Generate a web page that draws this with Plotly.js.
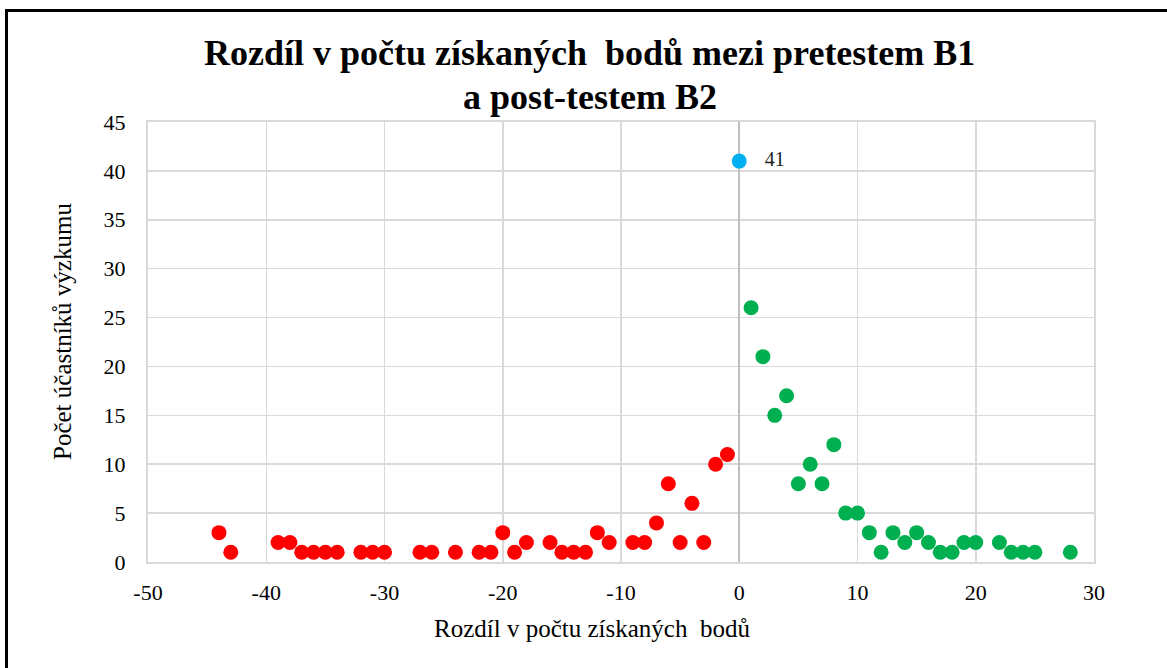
<!DOCTYPE html>
<html>
<head>
<meta charset="utf-8">
<script src="https://cdn.plot.ly/plotly-3.0.1.min.js"></script>
<style>
html,body{margin:0;padding:0;background:#fff;width:1167px;height:668px;overflow:hidden;}
#frame{position:absolute;left:5px;top:9px;width:1300px;height:800px;border-left:3px solid #000;border-top:3px solid #000;}
#chart{position:absolute;left:0;top:0;width:1167px;height:668px;}
</style>
</head>
<body>
<div id="frame"></div>
<div id="chart"></div>
<script>
// Negative differences (red)
const negX = [-44,-43,-39,-38,-37,-36,-35,-34,-32,-31,-30,-27,-26,-24,-22,-21,-20,-19,-18,-16,-15,-14,-13,-12,-11,-9,-8,-7,-6,-5,-4,-3,-2,-1];
const negY = [3,1,2,2,1,1,1,1,1,1,1,1,1,1,1,1,3,1,2,2,1,1,1,3,2,2,2,4,8,2,6,2,10,11];
// Zero difference (blue)
const zeroX = [0];
const zeroY = [41];
// Positive differences (green)
const posX = [1,2,3,4,5,6,7,8,9,10,11,12,13,14,15,16,17,18,19,20,22,23,24,25,28];
const posY = [26,21,15,17,8,10,8,12,5,5,3,1,3,2,3,2,1,1,2,2,2,1,1,1,1];

const titleLine1 = "Rozdíl v počtu získaných\u00a0 bodů mezi pretestem B1";
const titleLine2 = "a post-testem B2";
const xTitle = "Rozdíl v počtu získaných\u00a0 bodů";
const yTitle = "Počet účastníků výzkumu";
const xTicks = [-50,-40,-30,-20,-10,0,10,20,30];
const yTicks = [0,5,10,15,20,25,30,35,40,45];

const serif = "Liberation Serif, Times New Roman, serif";
const mk = (c) => ({size:15, color:c, line:{width:0}});

const traces = [
  {x:negX, y:negY, type:'scatter', mode:'markers', marker:mk('#ff0000'), hoverinfo:'x+y'},
  {x:zeroX, y:zeroY, type:'scatter', mode:'markers+text', marker:mk('#00b0f0'),
   text:zeroY.map(v => '\u00a0\u00a0\u00a0' + v), textposition:'middle right',
   textfont:{family:serif, size:20, color:'#222'}, hoverinfo:'x+y'},
  {x:posX, y:posY, type:'scatter', mode:'markers', marker:mk('#00b050'), hoverinfo:'x+y'}
];

const layout = {
  width:1167, height:668,
  margin:{l:148, r:73, t:122, b:106},
  paper_bgcolor:'rgba(0,0,0,0)', plot_bgcolor:'#fff',
  showlegend:false,
  font:{family:serif, color:'#000'},
  xaxis:{range:[-50,30], tickvals:xTicks, ticktext:xTicks.map(String), showgrid:true, gridcolor:'#d9d9d9', gridwidth:1.5,
         zeroline:true, zerolinecolor:'#bfbfbf', zerolinewidth:2, showline:true, linecolor:'#d9d9d9', linewidth:2, mirror:true,
         ticks:'', tickfont:{family:serif, size:22, color:'#000'}, ticklabelstandoff:10},
  yaxis:{range:[0,45], tickvals:yTicks, ticktext:yTicks.map(String), showgrid:true, gridcolor:'#d9d9d9', gridwidth:1.5,
         zeroline:false, showline:true, linecolor:'#d9d9d9', linewidth:2, mirror:true,
         ticks:'', tickfont:{family:serif, size:22, color:'#000'}, ticklabelstandoff:16},
  annotations:[
    {text:'<b>' + titleLine1 + '</b>', xref:'paper', yref:'paper',
     x:(589.5-148)/946, y:(562-53)/440, xanchor:'center', yanchor:'middle',
     showarrow:false, font:{family:serif, size:36, color:'#000'}},
    {text:'<b>' + titleLine2 + '</b>', xref:'paper', yref:'paper',
     x:(589.5-148)/946, y:(562-97)/440, xanchor:'center', yanchor:'middle',
     showarrow:false, font:{family:serif, size:36, color:'#000'}},
    {text:xTitle, xref:'paper', yref:'paper', x:(592-148)/946, y:-(628-562)/440, xanchor:'center', yanchor:'middle',
     showarrow:false, font:{family:serif, size:25, color:'#000'}},
    {text:yTitle, xref:'paper', yref:'paper', x:-(148-62)/946, y:(562-332)/440, xanchor:'center', yanchor:'middle',
     textangle:-90, showarrow:false, font:{family:serif, size:25, color:'#000'}}
  ]
};

Plotly.newPlot('chart', traces, layout, {displayModeBar:false, staticPlot:true});
</script>
</body>
</html>
